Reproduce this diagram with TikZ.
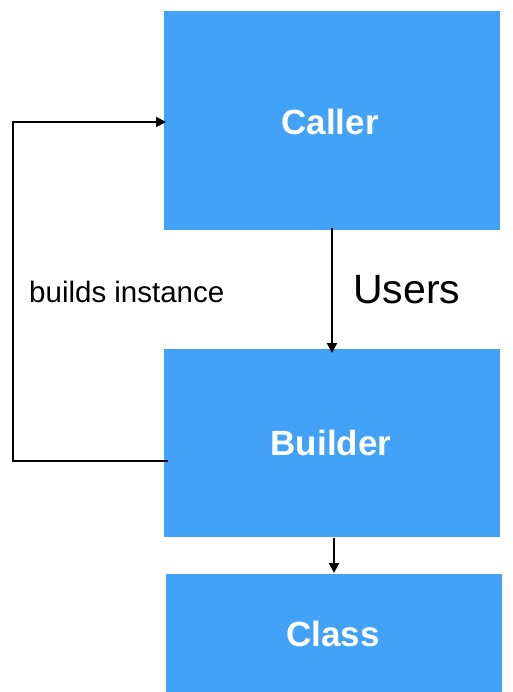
\documentclass[tikz,border=0pt]{standalone}
\usepackage{fontspec}
\setmainfont{Liberation Sans}
\usetikzlibrary{arrows.meta}
\definecolor{boxblue}{RGB}{66,162,248}
\tikzset{
  bluebox/.style={fill=boxblue, draw=none, inner sep=0pt, anchor=north west},
  boxtext/.style={text=white, font=\fontsize{35}{41}\selectfont\bfseries},
  conn/.style={line width=2pt, black},
  arr/.style={conn, -{Triangle[length=10pt,width=10pt]}}
}
\begin{document}
\begin{tikzpicture}[x=1pt,y=-1pt]
\useasboundingbox (0,0) rectangle (512,692);
\node[bluebox, minimum width=336pt, minimum height=219pt] (caller) at (164,11) {};
\node[bluebox, minimum width=336pt, minimum height=188pt] (builder) at (164,349) {};
\node[bluebox, minimum width=336pt, minimum height=118pt] (class) at (166,574) {};
\node[boxtext] (callertxt) at (330,122) {Caller};
\node[boxtext] (buildertxt) at (331,443) {Builder};
\node[boxtext] (classtxt) at (333,634) {Class};
\node[anchor=west, inner sep=0pt, font=\fontsize{41}{47}\selectfont] (users) at (353,290) {Users};
\node[anchor=west, inner sep=0pt, font=\fontsize{29.5}{35}\selectfont] (builds) at (29,292) {builds instance};
% connectors
\coordinate (ua) at (332,228);
\coordinate (ub) at (332,353);
\draw[arr] (ua) -- (ub);
\coordinate (ca) at (334,538);
\coordinate (cb) at (334,573);
\draw[arr] (ca) -- (cb);
\coordinate (bl) at (168,461);
\coordinate (lb) at (13,461);
\coordinate (lt) at (13,122);
\coordinate (ct) at (166,122);
\draw[arr] (bl) -- (lb) -- (lt) -- (ct);
\end{tikzpicture}
\end{document}
